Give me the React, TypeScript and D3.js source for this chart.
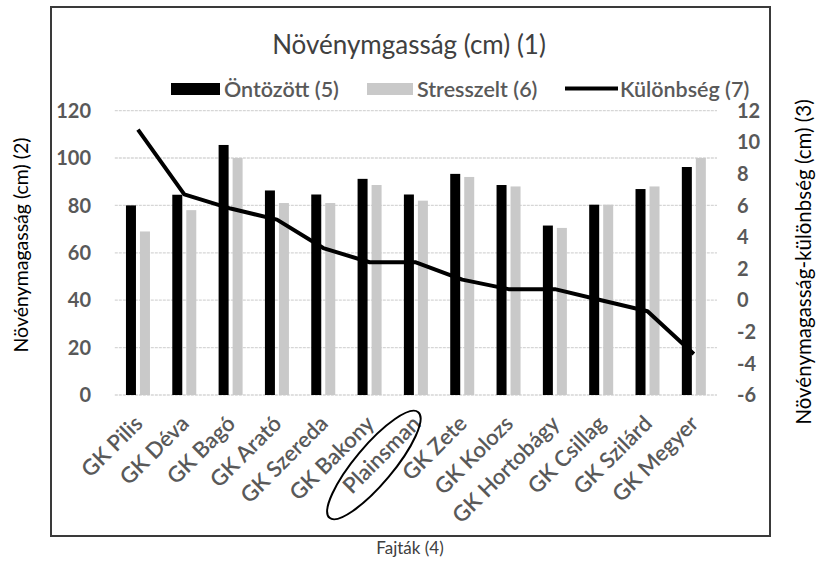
import React from "react";
import * as d3 from "d3";

const categories = [
  "GK Pilis", "GK Déva", "GK Bagó", "GK Arató", "GK Szereda", "GK Bakony",
  "Plainsman", "GK Zete", "GK Kolozs", "GK Hortobágy", "GK Csillag", "GK Szilárd", "GK Megyer",
];
const ontozott = [80, 84.5, 105.5, 86.3, 84.6, 91.2, 84.6, 93.3, 88.6, 71.5, 80.3, 86.9, 96.2];
const stresszelt = [69, 78, 100, 81, 81, 88.6, 82, 92, 88, 70.5, 80.3, 88, 100];
const kulonbseg = [10.8, 6.7, 5.8, 5.1, 3.3, 2.4, 2.4, 1.3, 0.7, 0.7, 0.0, -0.7, -3.4];
const leftTicks = [0, 20, 40, 60, 80, 100, 120];
const rightTicks = [-6, -4, -2, 0, 2, 4, 6, 8, 10, 12];
const seriesKeys = ["Öntözött (5)", "Stresszelt (6)"];
const highlighted = "Plainsman";

const W = 819;
const H = 583;
const plot = { left: 114.8, right: 717, top: 110.6, bottom: 395 };
const FONT = "Lato, 'Open Sans', sans-serif";
const GRAY_TXT = "#595959";
const BAR_GRAY = "#c9c9c9";

export default function App() {
  const x0 = d3.scaleBand<string>().domain(categories).range([plot.left, plot.right]).paddingInner(0).paddingOuter(0);
  const bw = x0.bandwidth();
  const x1 = d3
    .scaleBand<string>()
    .domain(seriesKeys)
    .range([bw / 2 - 12, bw / 2 + 12])
    .paddingInner(2 / 7);
  const yL = d3.scaleLinear().domain([0, 120]).range([plot.bottom, plot.top]);
  const yR = d3.scaleLinear().domain([-6, 12]).range([plot.bottom, plot.top]);

  const line = d3
    .line<number>()
    .x((_, i) => (x0(categories[i]) as number) + bw / 2)
    .y((d) => yR(d));

  const hiX = (x0(highlighted) as number) + bw / 2;

  return (
    <svg width={W} height={H} style={{ position: "absolute", left: 0, top: 0, background: "#fff" }} fontFamily={FONT}>
      <rect x={0} y={0} width={W} height={H} fill="#fff" />
      {/* frame */}
      <rect x={51} y={7} width={719} height={529} fill="none" stroke="#3a3a3a" strokeWidth={2} />

      {/* title */}
      <text x={409} y={54} textAnchor="middle" fontSize={26} fill="#404040">
        Növénymgasság (cm) (1)
      </text>

      {/* legend */}
      <g fontSize={21.5} fill={GRAY_TXT} fontWeight={600}>
        <rect x={171} y={83} width={49} height={12} fill="#000" />
        <text x={224} y={97}>{seriesKeys[0]}</text>
        <rect x={367} y={83} width={46} height={12} fill={BAR_GRAY} />
        <text x={417} y={97}>{seriesKeys[1]}</text>
        <line x1={565} x2={618} y1={88.5} y2={88.5} stroke="#000" strokeWidth={4} />
        <text x={620} y={97}>Különbség (7)</text>
      </g>

      {/* gridlines */}
      {leftTicks.map((t) => (
        <line key={t} x1={plot.left} x2={plot.right} y1={yL(t)} y2={yL(t)} stroke="#d6d6d6" strokeWidth={1.3} strokeDasharray="3 1" />
      ))}

      {/* left ticks */}
      {leftTicks.map((t) => (
        <text key={t} x={91} y={yL(t)} dy="0.36em" textAnchor="end" fontSize={20} fontWeight={700} fill={GRAY_TXT}>
          {t}
        </text>
      ))}
      {/* right ticks */}
      {rightTicks.map((t) => (
        <text key={t} x={737} y={yR(t)} dy="0.36em" textAnchor="start" fontSize={20} fontWeight={700} fill={GRAY_TXT}>
          {t}
        </text>
      ))}

      {/* bars */}
      {categories.map((c, i) => (
        <g key={c} transform={`translate(${x0(c)},0)`}>
          <rect x={x1(seriesKeys[0])} y={yL(ontozott[i])} width={x1.bandwidth()} height={yL(0) - yL(ontozott[i])} fill="#000" />
          <rect x={x1(seriesKeys[1])} y={yL(stresszelt[i])} width={x1.bandwidth()} height={yL(0) - yL(stresszelt[i])} fill={BAR_GRAY} />
        </g>
      ))}

      {/* difference line */}
      <path d={line(kulonbseg) || ""} fill="none" stroke="#000" strokeWidth={4} strokeLinejoin="round" />

      {/* x labels */}
      {categories.map((c) => {
        const cx = (x0(c) as number) + bw / 2 + 6;
        const cy = 425;
        return (
          <text
            key={c}
            x={cx}
            y={cy}
            textAnchor="end"
            fontSize={22}
            fontWeight={600}
            fill={GRAY_TXT}
            transform={`rotate(-45 ${cx} ${cy})`}
          >
            {c}
          </text>
        );
      })}

      {/* highlight ellipse */}
      <ellipse
        cx={hiX - 42}
        cy={465}
        rx={69}
        ry={19}
        fill="none"
        stroke="#000"
        strokeWidth={2}
        transform={`rotate(-50 ${hiX - 42} 465)`}
      />

      {/* axis titles */}
      <text x={0} y={0} transform="translate(28,245) rotate(-90)" textAnchor="middle" fontSize={19.5} fill="#000">
        Növénymagasság (cm) (2)
      </text>
      <text x={0} y={0} transform="translate(811,262) rotate(-90)" textAnchor="middle" fontSize={20.5} fill="#000">
        Növénymagasság-különbség (cm) (3)
      </text>
      <text x={410} y={554} textAnchor="middle" fontSize={17} fill="#404040">
        Fajták (4)
      </text>
    </svg>
  );
}
